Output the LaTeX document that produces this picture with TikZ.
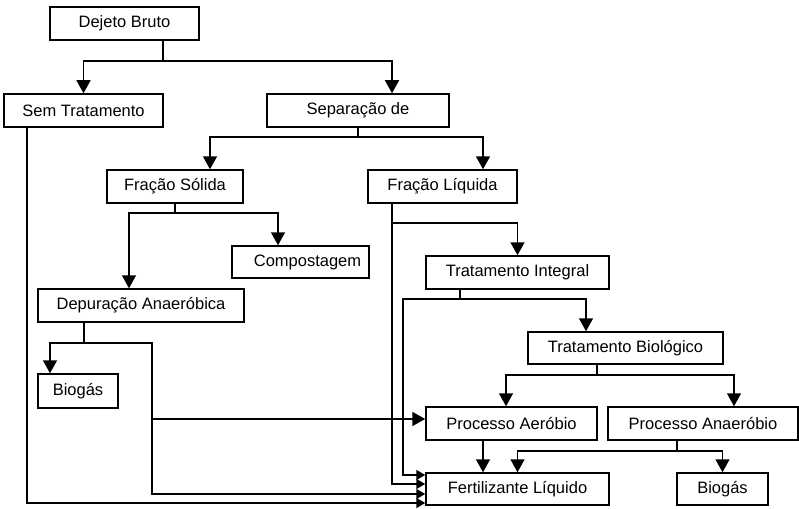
\documentclass[tikz,border=0pt]{standalone}
\usepackage{fontspec}
\setmainfont{Liberation Sans}
\usetikzlibrary{arrows.meta,calc}
\begin{document}
\begin{tikzpicture}[x=1pt,y=-1pt,
  box/.style={draw,line width=1.5pt,inner sep=0pt,font=\fontsize{16.5}{19}\selectfont},
  ln/.style={line width=1.5pt},
  arr/.style={ln,-{Triangle[length=13pt,width=14pt]}},
  sarr/.style={ln,-{Triangle[length=9pt,width=10pt]}}]
\useasboundingbox (0,0) rectangle (799,508);
\newcommand\bx[6]{\node[box,minimum width={#4-#2},minimum height={#5-#3}] (#1) at ({(#2+#4)/2},{(#3+#5)/2}) {#6};}
\bx{db}{50}{7}{199}{40}{Dejeto Bruto}
\bx{st}{4}{94}{163}{127}{Sem Tratamento}
\bx{sep}{267}{94}{449}{127}{Separação de}
\bx{fs}{107}{170}{243}{203}{Fração Sólida}
\bx{fl}{368}{170}{517}{203}{Fração Líquida}
\bx{comp}{232}{246}{369}{278}{\hspace*{14pt}Compostagem}
\bx{dep}{38}{289}{244}{322}{Depuração Anaeróbica}
\bx{bioa}{38}{374}{118}{408}{Biogás}
\bx{ti}{426}{256}{609}{289}{Tratamento Integral}
\bx{tb}{528}{332}{723}{364}{Tratamento Biológico}
\bx{pa}{426}{407}{597}{440}{Processo Aeróbio}
\bx{pan}{608}{407}{798}{440}{Processo Anaeróbio}
\bx{fert}{426}{473}{609}{505}{Fertilizante Líquido}
\bx{biob}{677}{473}{768}{505}{Biogás}
% Dejeto Bruto
\coordinate (j1) at (163,61);
\draw[ln] (db.south -| j1) -- (j1);
\draw[arr] (j1) -| (st.north);
\draw[arr] (j1) -| ([xshift=34pt]sep.north);
% Separacao
\coordinate (j2) at (358,137);
\draw[ln] (sep.south) -- (j2);
\draw[arr] (j2) -| ([xshift=35pt]fs.north);
\draw[arr] (j2) -| ([xshift=40.5pt]fl.north);
% Fracao Solida
\coordinate (j3) at (175,213);
\draw[ln] (fs.south) -- (j3);
\draw[arr] (j3) -| ([xshift=-22.5pt]comp.north);
\draw[arr] (j3) -| ([xshift=-12pt]dep.north);
% Depuracao
\coordinate (j4) at (84,343);
\coordinate (j5) at (152,343);
\coordinate (j6) at (152,419);
\draw[ln] (dep.south -| j4) -- (j4);
\draw[arr] (j4) -| ([xshift=-28pt]bioa.north);
\draw[ln] (j4) -- (j5) -- (j6);
\draw[arr] (j6) -- ([yshift=4.5pt]pa.west);
\draw[sarr] (j6) |- ([yshift=-5pt]fert.west);
% Sem Tratamento
\draw[sarr] ([xshift=-56.5pt]st.south) |- ([yshift=-14pt]fert.west);
% Fracao Liquida
\coordinate (j7) at (392,223);
\draw[sarr] (fl.south -| j7) |- ([yshift=5pt]fert.west);
\draw[arr] (j7) -| (ti.north);
% Tratamento Integral
\coordinate (j8) at (460,299);
\coordinate (j9) at (403,299);
\draw[ln] (ti.south -| j8) -- (j8);
\draw[arr] (j8) -| ([xshift=-39.5pt]tb.north);
\draw[sarr] (j8) -- (j9) |- ([yshift=14pt]fert.west);
% Tratamento Biologico
\coordinate (j10) at (597,375);
\draw[ln] (tb.south -| j10) -- (j10);
\draw[arr] (j10) -| ([xshift=-5.5pt]pa.north);
\draw[arr] (j10) -| ([xshift=31pt]pan.north);
% Processo Aerobio
\draw[arr] ([xshift=-28.5pt]pa.south) -- ([xshift=-34.5pt]fert.north);
% Processo Anaerobio
\coordinate (j11) at (677,451);
\draw[ln] (pan.south -| j11) -- (j11);
\draw[arr] (j11) -| (fert.north);
\draw[arr] (j11) -| (biob.north);
\end{tikzpicture}
\end{document}
